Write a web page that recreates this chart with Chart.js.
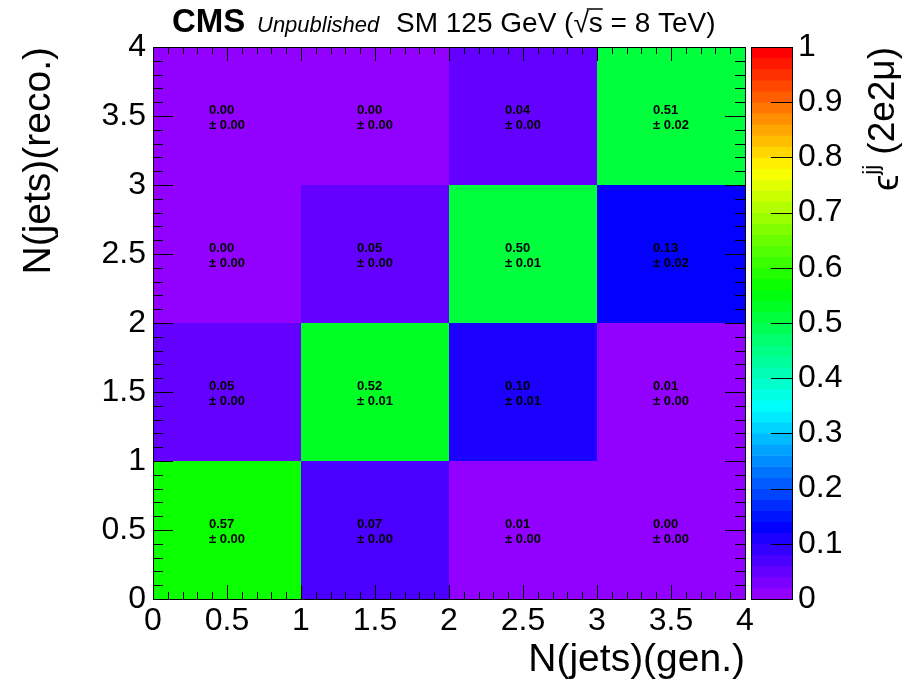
<!DOCTYPE html>
<html>
<head>
<meta charset="utf-8">
<script src="https://cdn.jsdelivr.net/npm/chart.js@4.4.1/dist/chart.umd.min.js"></script>
<style>
  html, body { margin: 0; padding: 0; background: #fff; }
  #wrap { position: relative; width: 912px; height: 684px; }
  #wrap canvas { position: absolute; left: 0; top: 0; }
</style>
</head>
<body>
<div id="wrap">
  <canvas id="heatmap" width="912" height="684"></canvas>
  <canvas id="palette" width="912" height="684"></canvas>
</div>
<script>
"use strict";

// gen. N(jets) bin centres, reco. N(jets) bin edges
const genCentres = [0.5, 1.5, 2.5, 3.5];
const recoRanges = [[0, 1], [1, 2], [2, 3], [3, 4]];

// efficiency per reco row (columns = gen bins)
const effReco0 = [0.57, 0.07, 0.01, 0.00];
const effReco1 = [0.05, 0.52, 0.10, 0.01];
const effReco2 = [0.00, 0.05, 0.50, 0.13];
const effReco3 = [0.00, 0.00, 0.04, 0.51];

const errReco0 = [0.00, 0.00, 0.00, 0.00];
const errReco1 = [0.00, 0.01, 0.01, 0.00];
const errReco2 = [0.00, 0.00, 0.01, 0.02];
const errReco3 = [0.00, 0.00, 0.00, 0.02];

const effRows = [effReco0, effReco1, effReco2, effReco3];
const errRows = [errReco0, errReco1, errReco2, errReco3];

const FONT = "'Liberation Sans', Arial, Helvetica, sans-serif";

// ROOT "pretty" palette: 50 levels, violet -> red
const nLevels = 50;
function rootColor(v) {
  const idx = Math.min(nLevels - 1, Math.max(0, Math.floor(v * nLevels + 1e-9)));
  const hue = idx === nLevels - 1 ? 0 : 280 - (idx + 1) * 5.6;
  return "hsl(" + hue + ", 100%, 50%)";
}

function line(ctx, x1, y1, x2, y2) {
  ctx.beginPath();
  ctx.moveTo(x1, y1);
  ctx.lineTo(x2, y2);
  ctx.stroke();
}

const plainNumber = function (value) {
  return String(Math.round(value * 10) / 10);
};

const frameAndText = {
  id: "frameAndText",
  afterDatasetsDraw(chart) {
    const { ctx, chartArea: a, scales } = chart;
    ctx.save();

    // cell labels
    ctx.fillStyle = "#000";
    ctx.font = "bold 13px " + FONT;
    ctx.textBaseline = "middle";
    ctx.textAlign = "left";
    chart.data.datasets.forEach(function (ds, j) {
      const meta = chart.getDatasetMeta(j);
      meta.data.forEach(function (el, i) {
        const c = el.getCenterPoint();
        const t1 = ds.data[i].eff.toFixed(2);
        const t2 = "\u00b1 " + ds.data[i].err.toFixed(2);
        const w = Math.max(ctx.measureText(t1).width, ctx.measureText(t2).width);
        ctx.fillText(t1, c.x - w / 2, c.y - 6);
        ctx.fillText(t2, c.x - w / 2, c.y + 9);
      });
    });

    // frame and ticks (inside, all four sides)
    ctx.strokeStyle = "#000";
    ctx.lineWidth = 1;
    for (let k = 0; k <= 40; k++) {
      const major = k % 5 === 0;
      const px = Math.round(scales.x.getPixelForValue(k / 10)) + 0.5;
      const py = Math.round(scales.y.getPixelForValue(k / 10)) + 0.5;
      const lx = major ? 14 : 7;
      const ly = major ? 20 : 10;
      line(ctx, px, a.bottom, px, a.bottom - lx);
      line(ctx, px, a.top, px, a.top + lx);
      line(ctx, a.left, py, a.left + ly, py);
      line(ctx, a.right, py, a.right - ly, py);
    }
    ctx.strokeRect(Math.round(a.left) + 0.5, Math.round(a.top) + 0.5,
      Math.round(a.right - a.left), Math.round(a.bottom - a.top));

    // header
    ctx.textBaseline = "alphabetic";
    ctx.textAlign = "left";
    const base = 32;
    ctx.font = "bold 33px " + FONT;
    ctx.fillText("CMS", 172, base);
    ctx.font = "italic 22px " + FONT;
    ctx.fillText("Unpublished", 257, base);
    ctx.font = "28px " + FONT;
    let x = 396;
    const p1 = "SM 125 GeV (\u221a";
    ctx.fillText(p1, x, base);
    x += ctx.measureText(p1).width;
    const ws = ctx.measureText("s").width;
    ctx.fillText("s", x, base);
    ctx.lineWidth = 1.5;
    line(ctx, x - 2, base - 23, x + ws, base - 23);
    x += ws;
    ctx.fillText(" = 8 TeV)", x, base);
    ctx.restore();
  }
};

const heatDatasets = effRows.map(function (eff, j) {
  return {
    label: "reco " + j,
    data: genCentres.map(function (g, i) {
      return { x: g, y: recoRanges[j], eff: eff[i], err: errRows[j][i] };
    }),
    backgroundColor: eff.map(rootColor),
    borderWidth: 0,
    barPercentage: 1,
    // the ruler also counts the 0.5 tick spacing, so a full bin is twice that
    categoryPercentage: 2
  };
});

new Chart(document.getElementById("heatmap"), {
  type: "bar",
  data: { datasets: heatDatasets },
  plugins: [frameAndText],
  options: {
    responsive: false,
    animation: false,
    layout: { padding: { left: 0, top: 47, right: 167, bottom: 0 } },
    plugins: { legend: { display: false }, tooltip: { enabled: false } },
    scales: {
      x: {
        type: "linear",
        min: 0,
        max: 4,
        stacked: true,
        offset: false,
        grid: { display: false, drawTicks: false, offset: false },
        border: { display: false },
        ticks: {
          stepSize: 0.5, padding: 3, color: "#000", maxRotation: 0,
          font: { family: FONT, size: 32 }, callback: plainNumber
        },
        title: {
          display: true, text: "N(jets)(gen.)", align: "end", color: "#000",
          font: { family: FONT, size: 39 }, padding: { top: 0, bottom: 0 }
        },
        afterFit: function (s) { s.height = 85; }
      },
      y: {
        type: "linear",
        min: 0,
        max: 4,
        stacked: false,
        grid: { display: false, drawTicks: false },
        border: { display: false },
        ticks: {
          stepSize: 0.5, padding: 7, color: "#000",
          font: { family: FONT, size: 32 }, callback: plainNumber
        },
        title: {
          display: true, text: "N(jets)(reco.)", align: "end", color: "#000",
          font: { family: FONT, size: 39 }, padding: { top: 16, bottom: 0 }
        },
        afterFit: function (s) { s.width = 153; }
      }
    }
  }
});

// colour scale (palette axis)
const zTicks = [0, 0.1, 0.2, 0.3, 0.4, 0.5, 0.6, 0.7, 0.8, 0.9, 1];
const zLevels = [];
for (let k = 0; k < nLevels; k++) zLevels.push((k + 0.5) / nLevels);

const paletteFrame = {
  id: "paletteFrame",
  afterDatasetsDraw(chart) {
    const { ctx, chartArea: a, scales } = chart;
    ctx.save();
    ctx.strokeStyle = "#000";
    ctx.lineWidth = 1;
    zTicks.forEach(function (v) {
      const py = Math.round(scales.y.getPixelForValue(v)) + 0.5;
      line(ctx, a.right, py, a.right - 21, py);
    });
    ctx.strokeRect(Math.round(a.left) + 0.5, Math.round(a.top) + 0.5,
      Math.round(a.right - a.left), Math.round(a.bottom - a.top));

    // axis title, reading bottom to top
    ctx.translate(884, a.top);
    ctx.rotate(-Math.PI / 2);
    ctx.fillStyle = "#000";
    ctx.textBaseline = "middle";
    ctx.textAlign = "left";
    ctx.font = "37px " + FONT;
    const wEps = ctx.measureText("\u03f5").width;
    const wRest = ctx.measureText(" (2e2\u03bc)").width;
    ctx.font = "22px " + FONT;
    const wSup = ctx.measureText("jj").width;
    let x = -(wEps + wSup + wRest);
    ctx.font = "37px " + FONT;
    ctx.fillText("\u03f5", x, 4);
    x += wEps;
    ctx.font = "22px " + FONT;
    ctx.fillText("jj", x, -12);
    x += wSup;
    ctx.font = "37px " + FONT;
    ctx.fillText(" (2e2\u03bc)", x, 0);
    ctx.restore();
  }
};

new Chart(document.getElementById("palette"), {
  type: "bar",
  data: {
    datasets: [{
      label: "palette",
      data: zLevels.map(function (z) { return { y: z, x: [0, 1] }; }),
      backgroundColor: zLevels.map(rootColor),
      borderWidth: 0,
      barPercentage: 1,
      categoryPercentage: 1
    }]
  },
  plugins: [paletteFrame],
  options: {
    indexAxis: "y",
    responsive: false,
    animation: false,
    layout: { padding: { left: 751, top: 47, right: 0, bottom: 85 } },
    plugins: { legend: { display: false }, tooltip: { enabled: false } },
    scales: {
      x: { type: "linear", min: 0, max: 1, display: false },
      y: {
        type: "linear",
        position: "right",
        min: 0,
        max: 1,
        offset: false,
        grid: { display: false, drawTicks: false, offset: false },
        border: { display: false },
        ticks: {
          stepSize: 0.1, padding: 6, color: "#000",
          font: { family: FONT, size: 32 }, callback: plainNumber
        },
        afterFit: function (s) { s.width = 120; }
      }
    }
  }
});
</script>
</body>
</html>
